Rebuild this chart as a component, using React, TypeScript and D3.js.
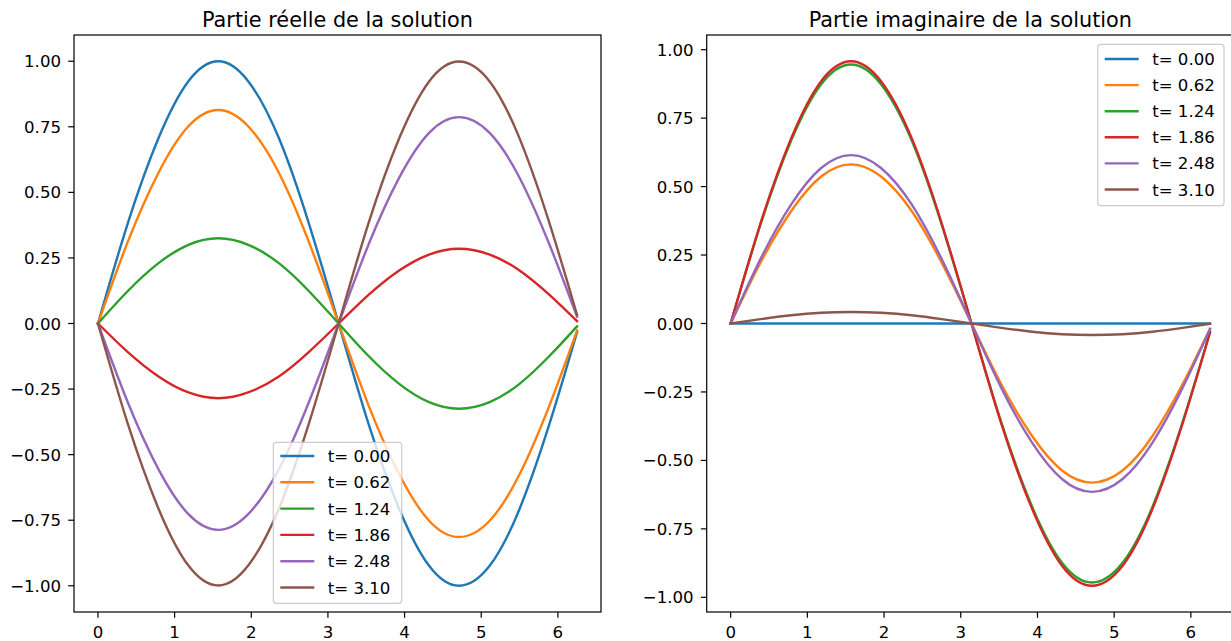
import React from "react";
import * as d3 from "d3";

const xs = [0, 0.39, 0.79, 1.18, 1.57, 1.96, 2.36, 2.75, 3.14, 3.53, 3.93, 4.32, 4.71, 5.11, 5.5, 5.89, 6.25];

const labels = ["t= 0.00", "t= 0.62", "t= 1.24", "t= 1.86", "t= 2.48", "t= 3.10"];
const colors = ["#1f77b4", "#ff7f0e", "#2ca02c", "#d62728", "#9467bd", "#8c564b"];

const real0 = [0, 0.383, 0.707, 0.924, 1, 0.924, 0.707, 0.383, 0, -0.383, -0.707, -0.924, -1, -0.924, -0.707, -0.383, -0.033];
const real1 = [0, 0.312, 0.575, 0.752, 0.814, 0.752, 0.575, 0.312, 0, -0.312, -0.575, -0.752, -0.814, -0.752, -0.575, -0.312, -0.027];
const real2 = [0, 0.124, 0.23, 0.3, 0.325, 0.3, 0.23, 0.124, 0, -0.124, -0.23, -0.3, -0.325, -0.3, -0.23, -0.124, -0.011];
const real3 = [0, -0.109, -0.202, -0.263, -0.285, -0.263, -0.202, -0.109, 0, 0.109, 0.202, 0.263, 0.285, 0.263, 0.202, 0.109, 0.009];
const real4 = [0, -0.301, -0.556, -0.727, -0.787, -0.727, -0.556, -0.301, 0, 0.301, 0.556, 0.727, 0.787, 0.727, 0.556, 0.301, 0.026];
const real5 = [0, -0.383, -0.706, -0.923, -0.999, -0.923, -0.706, -0.383, 0, 0.383, 0.706, 0.923, 0.999, 0.923, 0.706, 0.383, 0.033];

const imag0 = [0, 0, 0, 0, 0, 0, 0, 0, 0, 0, 0, 0, 0, 0, 0, 0, 0];
const imag1 = [0, 0.223, 0.411, 0.537, 0.581, 0.537, 0.411, 0.223, 0, -0.223, -0.411, -0.537, -0.581, -0.537, -0.411, -0.223, -0.019];
const imag2 = [0, 0.362, 0.669, 0.874, 0.946, 0.874, 0.669, 0.362, 0, -0.362, -0.669, -0.874, -0.946, -0.874, -0.669, -0.362, -0.031];
const imag3 = [0, 0.367, 0.677, 0.885, 0.958, 0.885, 0.677, 0.367, 0, -0.367, -0.677, -0.885, -0.958, -0.885, -0.677, -0.367, -0.032];
const imag4 = [0, 0.236, 0.435, 0.568, 0.615, 0.568, 0.435, 0.236, 0, -0.236, -0.435, -0.568, -0.615, -0.568, -0.435, -0.236, -0.02];
const imag5 = [0, 0.016, 0.03, 0.039, 0.042, 0.039, 0.03, 0.016, 0, -0.016, -0.03, -0.039, -0.042, -0.039, -0.03, -0.016, -0.001];

const realSeries = [real0, real1, real2, real3, real4, real5];
const imagSeries = [imag0, imag1, imag2, imag3, imag4, imag5];

const xTicks = [0, 1, 2, 3, 4, 5, 6];
const yTicks = [-1, -0.75, -0.5, -0.25, 0, 0.25, 0.5, 0.75, 1];

const FONT = "'DejaVu Sans', sans-serif";
const TICK_FS = 16.6;
const TITLE_FS = 20.8;

function fmtY(v: number) {
  const s = Math.abs(v).toFixed(2);
  return v < 0 ? "\u2212" + s : s;
}

type PanelProps = {
  left: number;
  right: number;
  top: number;
  bottom: number;
  title: string;
  series: number[][];
  yDomain: [number, number];
  legend: { x0: number; y0: number; x1: number; y1: number; firstY: number; step: number };
  id: string;
};

function Panel({ left, right, top, bottom, title, series, yDomain, legend, id }: PanelProps) {
  const x = d3.scaleLinear().domain([-0.3125, 6.5625]).range([left, right]);
  const y = d3.scaleLinear().domain(yDomain).range([bottom, top]);
  const line = d3
    .line<number>()
    .x((_, i) => x(xs[i]))
    .y((d) => y(d))
    .curve(d3.curveNatural);
  const tickLen = 5.8;
  return (
    <g>
      <defs>
        <clipPath id={id}>
          <rect x={left} y={top} width={right - left} height={bottom - top} />
        </clipPath>
      </defs>
      <g clipPath={`url(#${id})`}>
        {series.map((s, k) => (
          <path key={k} d={line(s) || ""} fill="none" stroke={colors[k]} strokeWidth={2.4} strokeLinecap="square" />
        ))}
      </g>
      <rect x={left} y={top} width={right - left} height={bottom - top} fill="none" stroke="#000" strokeWidth={1.2} />
      {xTicks.map((t) => (
        <g key={"x" + t}>
          <line x1={x(t)} x2={x(t)} y1={bottom} y2={bottom + tickLen} stroke="#000" strokeWidth={1.2} />
          <text x={x(t)} y={bottom + 26} textAnchor="middle" fontSize={TICK_FS} fontFamily={FONT} fill="#000">
            {t}
          </text>
        </g>
      ))}
      {yTicks.map((t) => (
        <g key={"y" + t}>
          <line x1={left - tickLen} x2={left} y1={y(t)} y2={y(t)} stroke="#000" strokeWidth={1.2} />
          <text x={left - 13} y={y(t) + 6} textAnchor="end" fontSize={TICK_FS} fontFamily={FONT} fill="#000">
            {fmtY(t)}
          </text>
        </g>
      ))}
      <text x={(left + right) / 2} y={27} textAnchor="middle" fontSize={TITLE_FS} fontFamily={FONT} fill="#000">
        {title}
      </text>
      <rect
        x={legend.x0}
        y={legend.y0}
        width={legend.x1 - legend.x0}
        height={legend.y1 - legend.y0}
        rx={3}
        ry={3}
        fill="#fff"
        fillOpacity={0.8}
        stroke="#cccccc"
        strokeWidth={1.2}
      />
      {labels.map((lab, k) => {
        const ly = legend.firstY + k * legend.step;
        return (
          <g key={"l" + k}>
            <line x1={legend.x0 + 7} x2={legend.x0 + 41} y1={ly} y2={ly} stroke={colors[k]} strokeWidth={2.4} />
            <text x={legend.x0 + 54.5} y={ly + 6} fontSize={TICK_FS} fontFamily={FONT} fill="#000">
              {lab}
            </text>
          </g>
        );
      })}
    </g>
  );
}

export default function App() {
  return (
    <svg
      width={1231}
      height={641}
      style={{ position: "absolute", left: 0, top: 0, background: "#fff" }}
    >
      <rect x={0} y={0} width={1231} height={641} fill="#fff" />
      <Panel
        id="clipA"
        left={74}
        right={601}
        top={35}
        bottom={612}
        title="Partie réelle de la solution"
        series={realSeries}
        yDomain={[-1.1, 1.1]}
        legend={{ x0: 273.3, y0: 442.3, x1: 401.7, y1: 603.3, firstY: 456, step: 26.3 }}
      />
      <Panel
        id="clipB"
        left={706.7}
        right={1234}
        top={35}
        bottom={612}
        title="Partie imaginaire de la solution"
        series={imagSeries}
        yDomain={[-1.0536, 1.0536]}
        legend={{ x0: 1097.7, y0: 44.3, x1: 1224, y1: 205.7, firstY: 59, step: 26.1 }}
      />
    </svg>
  );
}
